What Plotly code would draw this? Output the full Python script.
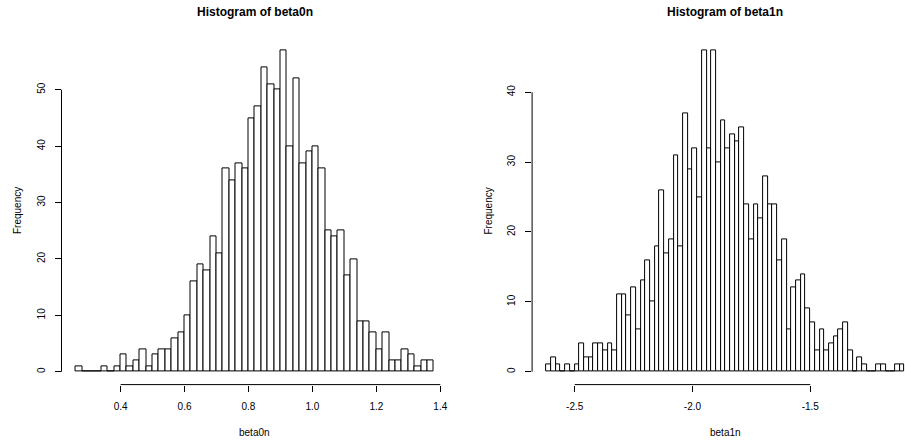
import numpy as np
import plotly.graph_objects as go

# ---- data ----
beta0n_break_start = 0.26
beta0n_bin_width = 0.02
beta0n_counts = [1, 0, 0, 0, 1, 0, 1, 3, 1, 2, 4, 1, 3, 4, 4, 6, 7, 10, 16, 19,
                 18, 24, 21, 36, 34, 37, 36, 45, 47, 54, 51, 50, 57, 40, 52, 37, 39, 40, 36, 25,
                 24, 25, 17, 20, 9, 9, 7, 4, 7, 2, 2, 4, 3, 1, 2, 2]

beta1n_break_start = -2.62
beta1n_bin_width = 0.02
beta1n_counts = [1, 2, 1, 0, 1, 0, 1, 4, 2, 2, 4, 4, 3, 4, 3, 11, 11, 8, 12, 6,
                 13, 16, 10, 18, 26, 17, 19, 31, 18, 37, 29, 32, 25, 46, 32, 46, 30, 36, 32, 34,
                 33, 35, 24, 19, 24, 22, 28, 24, 24, 16, 19, 6, 12, 13, 14, 9, 7, 3, 6, 3,
                 4, 5, 6, 7, 3, 0, 2, 1, 0, 0, 1, 1, 0, 0, 1, 1]

x0_ticks = [0.4, 0.6, 0.8, 1.0, 1.2, 1.4]
x0_ticklabels = ["0.4", "0.6", "0.8", "1.0", "1.2", "1.4"]
x1_ticks = [-2.5, -2.0, -1.5]
x1_ticklabels = ["-2.5", "-2.0", "-1.5"]
y0_ticks = [0, 10, 20, 30, 40, 50]
y1_ticks = [0, 10, 20, 30, 40]

titles = ["Histogram of beta0n", "Histogram of beta1n"]
xlabels = ["beta0n", "beta1n"]
ylabel = "Frequency"

# ---- geometry (pixels of a 905x445 canvas) ----
W, H = 905, 445
FONT = "Liberation Sans, Arial, Helvetica, sans-serif"


def breaks(start, width, n):
    edges = start + width * np.arange(n + 1)
    return np.round(edges, 6)


def centers(start, width, n):
    return start + width * (np.arange(n) + 0.5)


def r_range(lo, hi):
    d = (hi - lo) * 0.04
    return lo - d, hi + d


e0 = breaks(beta0n_break_start, beta0n_bin_width, len(beta0n_counts))
e1 = breaks(beta1n_break_start, beta1n_bin_width, len(beta1n_counts))
xr0 = r_range(e0[0], e0[-1])
xr1 = r_range(e1[0], e1[-1])
yr0 = r_range(0, max(beta0n_counts))
yr1 = r_range(0, max(beta1n_counts))

# plot regions in pixels
L0, R0 = 61.5, 448.2
L1 = 532.1
R1_full = L1 + (R0 - L0)
TOP, BOT = 37.4, 384.6

# right plot is cut by the canvas edge
xr1_vis = (xr1[0], xr1[0] + (W - L1) / (R1_full - L1) * (xr1[1] - xr1[0]))

ybot = (H - BOT) / H
ytop = (H - TOP) / H

fig = go.Figure()

bar_style = dict(marker=dict(color="white", line=dict(color="black", width=1)),
                 showlegend=False, hoverinfo="x+y")

fig.add_trace(go.Bar(x=centers(beta0n_break_start, beta0n_bin_width, len(beta0n_counts)),
                     y=beta0n_counts, width=beta0n_bin_width, xaxis="x", yaxis="y", **bar_style))
fig.add_trace(go.Bar(x=centers(beta1n_break_start, beta1n_bin_width, len(beta1n_counts)),
                     y=beta1n_counts, width=beta1n_bin_width, xaxis="x2", yaxis="y2", **bar_style))

tick_common = dict(ticks="outside", ticklen=6, tickwidth=1, tickcolor="black",
                   showgrid=False, zeroline=False, showline=False,
                   tickfont=dict(family=FONT, size=10, color="black"), fixedrange=True)

fig.update_layout(
    width=W, height=H,
    margin=dict(l=0, r=0, t=0, b=0),
    paper_bgcolor="white", plot_bgcolor="white",
    bargap=0,
    xaxis=dict(domain=[L0 / W, R0 / W], range=list(xr0), tickmode="array",
               tickvals=x0_ticks, ticktext=x0_ticklabels, anchor="y",
               ticklabelstandoff=6, **tick_common),
    yaxis=dict(domain=[ybot, ytop], range=list(yr0), tickmode="array",
               tickvals=y0_ticks, ticktext=[str(v) for v in y0_ticks], anchor="x",
               tickangle=-90, ticklabelstandoff=6, **tick_common),
    xaxis2=dict(domain=[L1 / W, 1.0], range=list(xr1_vis), tickmode="array",
                tickvals=x1_ticks, ticktext=x1_ticklabels, anchor="y2",
                ticklabelstandoff=6, **tick_common),
    yaxis2=dict(domain=[ybot, ytop], range=list(yr1), tickmode="array",
                tickvals=y1_ticks, ticktext=[str(v) for v in y1_ticks], anchor="x2",
                tickangle=-90, ticklabelstandoff=6, **tick_common),
)

# R-style axis lines spanning first to last tick
shapes = [
    dict(type="line", xref="x", yref="paper", x0=x0_ticks[0], x1=x0_ticks[-1], y0=ybot, y1=ybot),
    dict(type="line", xref="paper", yref="y", x0=L0 / W, x1=L0 / W, y0=y0_ticks[0], y1=y0_ticks[-1]),
    dict(type="line", xref="x2", yref="paper", x0=x1_ticks[0], x1=x1_ticks[-1], y0=ybot, y1=ybot),
    dict(type="line", xref="paper", yref="y2", x0=L1 / W, x1=L1 / W, y0=y1_ticks[0], y1=y1_ticks[-1]),
]
for s in shapes:
    s["line"] = dict(color="black", width=1)
fig.update_layout(shapes=shapes)

ann = []
centers_px = [(L0 + R0) / 2, (L1 + R1_full) / 2]
for i in range(2):
    ann.append(dict(text="<b>%s</b>" % titles[i], x=centers_px[i] / W, y=(H - 11.7) / H,
                    xref="paper", yref="paper", showarrow=False, xanchor="center", yanchor="middle",
                    font=dict(family=FONT, size=12, color="black")))
    ann.append(dict(text=xlabels[i], x=centers_px[i] / W, y=(H - 432) / H,
                    xref="paper", yref="paper", showarrow=False, xanchor="center", yanchor="middle",
                    font=dict(family=FONT, size=10, color="black")))
for lx in [17.0, 487.5]:
    ann.append(dict(text=ylabel, x=lx / W, y=(ybot + ytop) / 2, xref="paper", yref="paper",
                    showarrow=False, textangle=-90, xanchor="center", yanchor="middle",
                    font=dict(family=FONT, size=10, color="black")))
fig.update_layout(annotations=ann)

fig.write_html("out.html")
